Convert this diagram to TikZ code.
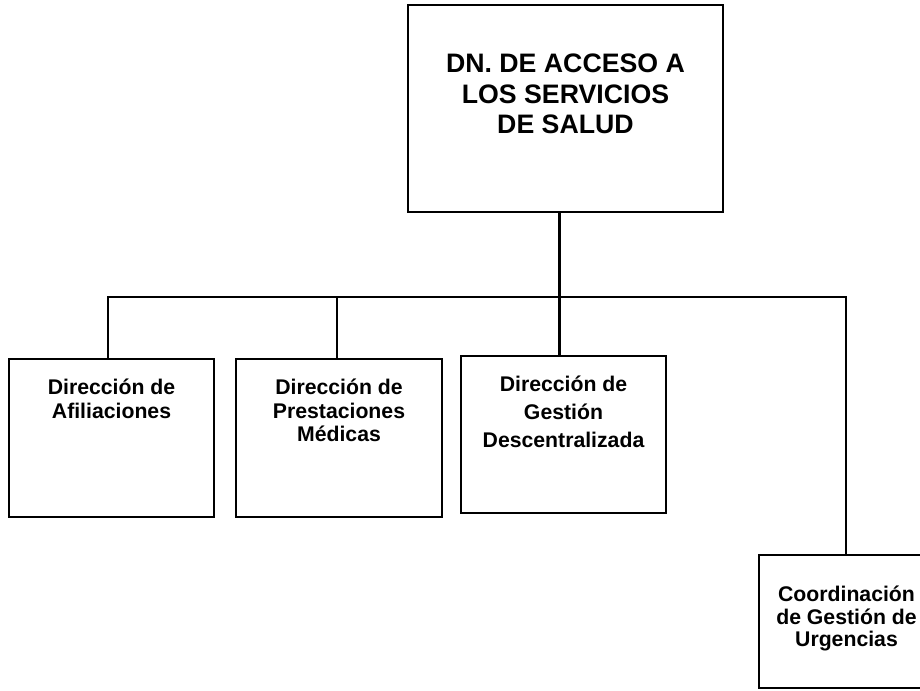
\documentclass[tikz,border=0pt]{standalone}
\usepackage{fontspec}
\setmainfont{Liberation Sans}
\usetikzlibrary{positioning}
\begin{document}
\begin{tikzpicture}[
        unitbox/.style={draw, line width=1.8pt, inner sep=0pt},
        link/.style={line width=1.8pt},
        titletext/.style={font=\fontsize{19}{21.8}\selectfont\bfseries, align=center, inner sep=0pt},
        boxtext/.style={font=\fontsize{15.1}{16.7}\selectfont\bfseries, align=center, inner sep=0pt}]
        \useasboundingbox (0,0) rectangle (23,17.25);
        \node [unitbox, minimum width=7.875cm, minimum height=5.175cm] (dn) at (14.1375,14.5375) {};
        \node [titletext, below=1.25cm of dn.north] (dntxt) {DN. DE ACCESO A\\LOS SERVICIOS\\DE SALUD};
        \node [unitbox, minimum width=5.125cm, minimum height=3.95cm] (afil) at (2.7875,6.3) {};
        \node [boxtext, below=0.525cm of afil.north] (afiltxt) {Dirección de\\Afiliaciones};
        \node [unitbox, minimum width=5.15cm, minimum height=3.95cm] (prest) at (8.475,6.3) {};
        \node [boxtext, below=0.525cm of prest.north] (presttxt) {Dirección de\\Prestaciones\\Médicas};
        \node [unitbox, minimum width=5.125cm, minimum height=3.925cm] (desc) at (14.0875,6.3875) {};
        \node [boxtext, font=\fontsize{15.1}{19.9}\selectfont\bfseries, below=0.53cm of desc.north] (desctxt) {Dirección de\\Gestión\\Descentralizada};
        \node [unitbox, minimum width=4.375cm, minimum height=3.325cm] (urg) at (21.1625,1.7125) {};
        \node [boxtext, font=\fontsize{15.1}{16}\selectfont\bfseries, below=0.8cm of urg.north] (urgtxt) {Coordinación\\de Gestión de\\Urgencias};
        \coordinate (j1) at (2.7,9.825);
        \coordinate (j2) at (8.425,9.825);
        \coordinate (j3) at (13.9875,9.825);
        \coordinate (j4) at (21.15,9.825);
        \draw [link] (j1 |- afil.north) -- (j1) -- (j4) -- (j4 |- urg.north);
        \draw [link] (j2) -- (j2 |- prest.north);
        \draw [link] (dn.south -| j3) -- (j3 |- desc.north);
\end{tikzpicture}
\end{document}
